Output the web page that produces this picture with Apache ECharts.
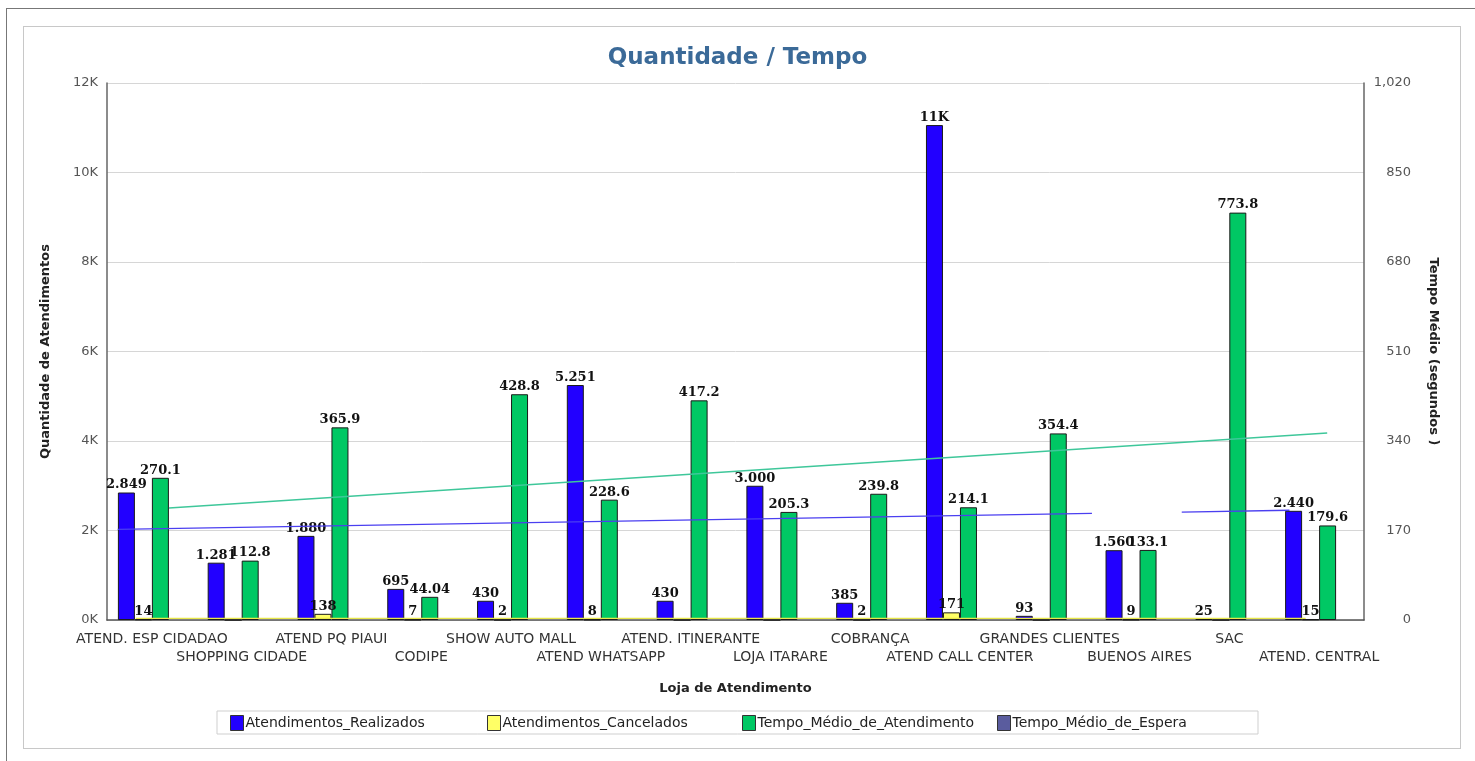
<!DOCTYPE html>
<html>
<head>
<meta charset="utf-8">
<script src="https://cdn.jsdelivr.net/npm/echarts@6/dist/echarts.min.js"></script>
<style>
  html, body { margin: 0; padding: 0; background: #fff; }
  #outer { position: absolute; left: 6px; top: 8px; width: 1469px; height: 753px; border-top: 1px solid #777; border-left: 1px solid #777; }
  #panel { position: absolute; left: 23px; top: 26px; width: 1436px; height: 721px; border: 1px solid #c8c8c8; }
  #main { position: absolute; left: 0; top: 0; width: 1475px; height: 761px; }
</style>
</head>
<body>
<div id="outer"></div>
<div id="panel"></div>
<div id="main"></div>
<script>
// lojas
const lojas = ['ATEND. ESP CIDADAO', 'SHOPPING CIDADE', 'ATEND PQ PIAUI', 'CODIPE', 'SHOW AUTO MALL',
  'ATEND WHATSAPP', 'ATEND. ITINERANTE', 'LOJA ITARARE', 'COBRANÇA', 'ATEND CALL CENTER',
  'GRANDES CLIENTES', 'BUENOS AIRES', 'SAC', 'ATEND. CENTRAL'];

const realizados = [2849, 1281, 1880, 695, 430, 5251, 430, 3000, 385, 11060, 93, 1560, 25, 2440];
const cancelados = [14, 0, 138, 7, 2, 8, 0, 0, 2, 171, 0, 9, 0, 15];
const tempoAtend = [270.1, 112.8, 365.9, 44.04, 428.8, 228.6, 417.2, 205.3, 239.8, 214.1, 354.4, 133.1, 773.8, 179.6];
const tempoEspera = [0, 0, 0, 0, 0, 0, 0, 0, 0, 0, 0, 0, 0, 0];

// linhas de tendencia (posicao em categorias, valor)
const trendRealizados1 = [[0.12, 2027], [10.97, 2384]];
const trendRealizados2 = [[11.97, 2412], [13.17, 2452]];
const trendCancelados = [[0.32, 35], [13.35, 35]];
const trendTempo = [[0.69, 212.7], [13.59, 355.2]];

const leftTicks = { min: 0, max: 12000, interval: 2000 };
const rightTicks = { min: 0, max: 1020, interval: 170 };

const names = ['Atendimentos_Realizados', 'Atendimentos_Cancelados', 'Tempo_Médio_de_Atendimento', 'Tempo_Médio_de_Espera'];
const colors = ['#2200ff', '#ffff66', '#00c864', '#5a5c9e'];

function milhar(v) {
  return String(Math.round(v)).replace(/\B(?=(\d{3})+(?!\d))/g, '.');
}

const labelFont = { fontFamily: 'DejaVu Serif', fontWeight: 'bold', fontSize: 13, color: '#111' };
const nameFont = { fontFamily: 'DejaVu Sans', fontWeight: 'bold', fontSize: 13, color: '#222' };

const chart = echarts.init(document.getElementById('main'));

function barSeries(i, data, axis, fmt) {
  return {
    name: names[i],
    type: 'bar',
    yAxisIndex: axis,
    barWidth: 17,
    barGap: '0%',
    data: data,
    itemStyle: { color: colors[i], borderColor: '#1a1a1a', borderWidth: 1 },
    label: Object.assign({ show: true, position: 'top', distance: 1, formatter: fmt }, labelFont),
    z: 2
  };
}

function trend(data, axis, color) {
  return {
    type: 'line',
    xAxisIndex: 1,
    yAxisIndex: axis,
    data: data,
    symbol: 'none',
    silent: true,
    lineStyle: { color: color, width: 1.3 },
    z: 5
  };
}

const legendLeft = [230, 487, 742, 997];

chart.setOption({
  animation: false,
  title: {
    text: 'Quantidade / Tempo',
    left: 'center',
    top: 42,
    textStyle: { fontFamily: 'DejaVu Sans', fontSize: 23, fontWeight: 'bold', color: '#3b6a98' }
  },
  graphic: [{
    type: 'rect',
    shape: { x: 217, y: 711, width: 1041, height: 23 },
    style: { fill: '#fff', stroke: '#cfcfcf', lineWidth: 1 },
    z: -1
  }],
  legend: names.map((n, i) => ({
    data: [n],
    left: legendLeft[i],
    top: 715,
    itemWidth: 13,
    itemHeight: 15,
    itemGap: 4,
    icon: 'rect',
    padding: 0,
    itemStyle: { borderColor: '#333', borderWidth: 1 },
    textStyle: { fontFamily: 'DejaVu Sans', fontSize: 14, color: '#222', padding: [0, 0, 0, -3] },
    selectedMode: false
  })),
  grid: { left: 107, right: 111, top: 83, bottom: 141 },
  xAxis: [{
    type: 'category',
    data: lojas,
    name: 'Loja de Atendimento',
    nameLocation: 'middle',
    nameGap: 62,
    nameTextStyle: nameFont,
    axisLine: { lineStyle: { color: '#555', width: 1.5 } },
    axisTick: { show: false },
    axisLabel: {
      interval: 0,
      margin: 10,
      fontFamily: 'DejaVu Sans',
      fontSize: 14,
      color: '#333',
      lineHeight: 18,
      formatter: (v, i) => (i % 2 ? '\n' + v : v)
    }
  }, {
    type: 'value',
    min: 0,
    max: 14,
    show: false
  }],
  yAxis: [{
    type: 'value',
    min: leftTicks.min,
    max: leftTicks.max,
    interval: leftTicks.interval,
    name: 'Quantidade de Atendimentos',
    nameLocation: 'middle',
    nameGap: 55,
    nameTextStyle: nameFont,
    axisLine: { show: true, lineStyle: { color: '#666', width: 1.5 } },
    axisTick: { show: false },
    axisLabel: { margin: 9, fontFamily: 'DejaVu Sans', fontSize: 13, color: '#555', formatter: v => (v / 1000) + 'K' },
    splitLine: { lineStyle: { color: '#d6d6d6' } }
  }, {
    type: 'value',
    position: 'right',
    min: rightTicks.min,
    max: rightTicks.max,
    interval: rightTicks.interval,
    name: 'Tempo Médio (segundos )',
    nameLocation: 'middle',
    nameRotate: -90,
    nameGap: 63,
    nameTextStyle: nameFont,
    axisLine: { show: true, lineStyle: { color: '#666', width: 1.5 } },
    axisTick: { show: false },
    axisLabel: { margin: 47, align: 'right', fontFamily: 'DejaVu Sans', fontSize: 13, color: '#555',
      formatter: v => String(v).replace(/\B(?=(\d{3})+(?!\d))/g, ',') },
    splitLine: { show: false }
  }],
  series: [
    barSeries(0, realizados, 0, p => (p.value >= 10000 ? Math.round(p.value / 1000) + 'K' : milhar(p.value))),
    barSeries(1, cancelados, 0, p => (p.value ? String(p.value) : '')),
    barSeries(2, tempoAtend, 1, p => String(p.value)),
    Object.assign(barSeries(3, tempoEspera, 1, p => (p.value ? String(p.value) : '')), { itemStyle: { color: colors[3], borderWidth: 0 } }),
    trend(trendRealizados1, 0, '#4b3ff0'),
    trend(trendRealizados2, 0, '#4b3ff0'),
    trend(trendCancelados, 0, '#e8e84a'),
    trend(trendTempo, 1, '#3ec79a')
  ]
});
</script>
</body>
</html>
